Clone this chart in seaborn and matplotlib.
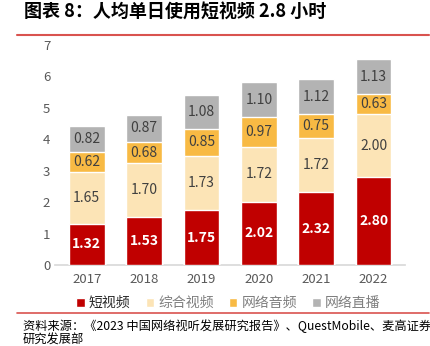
import matplotlib
matplotlib.use("Agg")
import matplotlib.pyplot as plt
import seaborn as sns
import pandas as pd
import numpy as np

years = ["2017", "2018", "2019", "2020", "2021", "2022"]
short_video = [1.32, 1.53, 1.75, 2.02, 2.32, 2.80]
general_video = [1.65, 1.70, 1.73, 1.72, 1.72, 2.00]
net_audio = [0.62, 0.68, 0.85, 0.97, 0.75, 0.63]
live_stream = [0.82, 0.87, 1.08, 1.10, 1.12, 1.13]
series_names = ["短视频", "综合视频", "网络音频", "网络直播"]
colors = ["#C00000", "#FCE4B6", "#F8BA44", "#B3B3B3"]
label_colors = ["white", "#404040", "#404040", "#404040"]

sns.set_theme(style="white")
plt.rcParams['font.family'] = ['Noto Sans CJK SC', 'DejaVu Sans']

fig = plt.figure(figsize=(4.31, 3.46), dpi=100)
ax = fig.add_axes([0.128, 0.234, 0.812, 0.636])

data = [short_video, general_video, net_audio, live_stream]
cum = np.cumsum(np.array(data), axis=0)
for i in range(len(data) - 1, -1, -1):
    df = pd.DataFrame({"year": years, "v": cum[i]})
    sns.barplot(data=df, x="year", y="v", color=colors[i], width=0.62,
                saturation=1, ax=ax, label=series_names[i], zorder=2 + (4 - i))

for i, (vals, lc) in enumerate(zip(data, label_colors)):
    for j, v in enumerate(vals):
        base = cum[i][j] - v
        ax.text(j, base + v / 2, f"{v:.2f}", ha="center", va="center",
                color=lc, fontsize=10, fontweight="bold" if i == 0 else "normal", zorder=10)

ax.set_ylim(0, 7)
ax.set_xlim(-0.55, 5.55)
ax.set_yticks(range(0, 8))
ax.set_xlabel("")
ax.set_ylabel("")
ax.tick_params(axis="both", colors="#595959", labelsize=9.5, length=0)
ax.tick_params(axis="x", pad=6)
for s in ["top", "right", "left"]:
    ax.spines[s].set_visible(False)
ax.spines["bottom"].set_color("#D9D9D9")

handles, labels = ax.get_legend_handles_labels()
if ax.get_legend() is not None:
    ax.get_legend().remove()
order = [labels.index(n) for n in series_names]
leg = fig.legend([handles[k] for k in order], series_names, loc="center",
                 bbox_to_anchor=(0.53, 0.124), ncol=4, frameon=False, fontsize=10,
                 handlelength=0.6, handleheight=0.6, columnspacing=1.1, handletextpad=0.3)
for t in leg.get_texts():
    t.set_color("#7F7F7F")
leg.get_texts()[0].set_color("#262626")

fig.text(0.055, 0.965, "图表 8：人均单日使用短视频 2.8 小时", fontsize=13,
         fontweight="bold", va="center", ha="left", color="black")
fig.add_artist(plt.Line2D([0.04, 0.995], [0.898, 0.898], color="#D9534F", lw=1.5))
fig.add_artist(plt.Line2D([0.04, 0.995], [0.095, 0.095], color="#D9534F", lw=1.2))
fig.text(0.053, 0.058, "资料来源：《2023 中国网络视听发展研究报告》、QuestMobile、麦高证券", fontsize=8.8,
         va="center", ha="left", color="black")
fig.text(0.053, 0.018, "研究发展部", fontsize=8.8, va="center", ha="left", color="black")

fig.savefig("out.png", dpi=100)
